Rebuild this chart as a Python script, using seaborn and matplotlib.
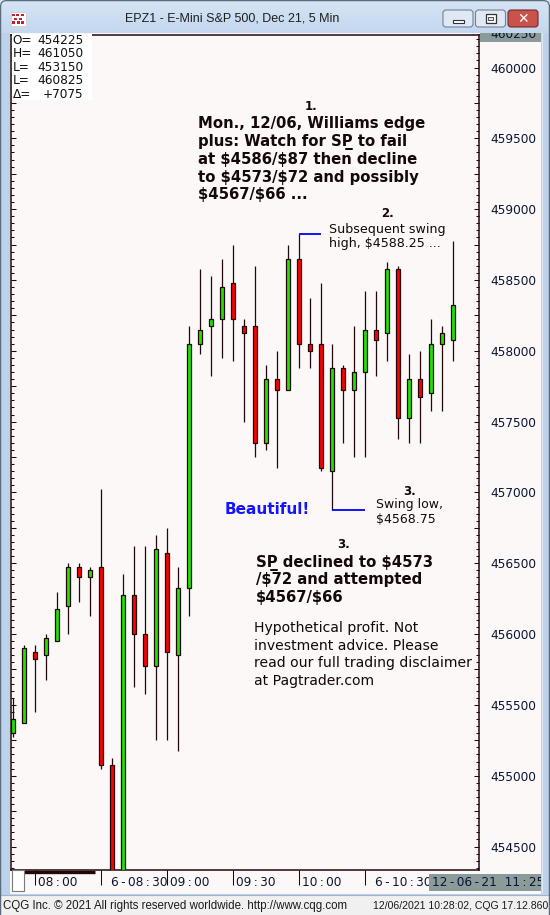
import numpy as np
import pandas as pd
import matplotlib
matplotlib.use("Agg")
import matplotlib.pyplot as plt
import seaborn as sns
from matplotlib.patches import Rectangle, FancyBboxPatch
from matplotlib.ticker import MultipleLocator, FuncFormatter

# ---------------- data (prices x100, as shown by CQG) ----------------
opens = [455300, 455375, 455875, 455850, 455950, 456200, 456475, 456400, 456475, 455075,
         454250, 456275, 456000, 455775, 456575, 455850, 456325, 458050, 458175, 458225,
         458475, 458175, 458175, 457350, 457800, 457725, 458650, 458050, 458050, 457150,
         457875, 457725, 457850, 458150, 458125, 458575, 457525, 457800, 457700, 458050,
         458075]
highs = [455550, 455925, 455925, 456000, 456300, 456500, 456500, 456475, 457025, 455125,
         456425, 456625, 456625, 456700, 456750, 456475, 458175, 458575, 458525, 458650,
         458750, 458225, 458600, 457900, 458000, 458750, 458825, 458375, 458475, 458050,
         457900, 458175, 458425, 458425, 458625, 458600, 457975, 458000, 458225, 458175,
         458775]
lows = [455275, 455375, 455450, 455675, 455950, 456000, 456225, 456125, 455050, 454200,
        454200, 455625, 455575, 455250, 455250, 455175, 456125, 457975, 457825, 457950,
        457925, 457500, 457250, 457300, 457175, 457725, 457875, 457875, 457150, 456875,
        457350, 457250, 457250, 457825, 457925, 457375, 457350, 457350, 457575, 457575,
        457925]
closes = [455400, 455900, 455825, 455975, 456175, 456475, 456400, 456450, 455075, 454250,
          456275, 456000, 455775, 456600, 455875, 456325, 458050, 458150, 458225, 458450,
          458225, 458125, 457350, 457800, 457725, 458650, 458050, 458000, 457175, 457875,
          457725, 457850, 458150, 458075, 458575, 457525, 457800, 457675, 458050, 458125,
          458325]

time_tick_idx = [2, 8, 14, 20, 26, 32]
time_tick_labels = ["08:00", "6-08:30", "09:00", "09:30", "10:00", "6-10:30"]
info_labels = ["O=", "H=", "L=", "L=", "\u0394="]
info_values = ["454225", "461050", "453150", "460825", "+7075"]
title_text = "EPZ1 - E-Mini S&P 500, Dec 21, 5 Min"
swing_high_idx = 26
swing_low_idx = 29

df = pd.DataFrame({"o": opens, "h": highs, "l": lows, "c": closes})
df["i"] = np.arange(len(df))

# ---------------- style ----------------
sns.set_theme(style="white")
plt.rcParams['font.family'] = ['DejaVu Sans']

W, H = 550, 915
fig = plt.figure(figsize=(5.5, 9.15), dpi=100)
FRAME = '#bcd2ea'
PLOTBG = '#fbf8f7'
DARK = '#22070a'
NAVY = '#0a1530'
fig.patch.set_facecolor(FRAME)

def pxax(z):
    a = fig.add_axes([0, 0, 1, 1], zorder=z)
    a.set_xlim(0, W); a.set_ylim(H, 0); a.axis('off'); a.patch.set_alpha(0)
    return a

bg = pxax(-10)
bg.add_patch(Rectangle((10, 33), 531, 861, facecolor=PLOTBG, edgecolor='none'))
bg.add_patch(Rectangle((0, 895), 550, 20, facecolor='#f0f0f0', edgecolor='none'))
bg.plot([0, 550], [895, 895], color='#9fb4cc', lw=0.8)

# ---------------- main chart ----------------
L, R, T, B = 11, 479, 35, 870
ax = fig.add_axes([L / W, 1 - B / H, (R - L) / W, (B - T) / H], zorder=0)
ax.set_facecolor(PLOTBG)
x0 = -(13 - L) / 11.0
ax.set_xlim(x0, x0 + (R - L) / 11.0)
units_per_px = 5500 / 779.0
ax.set_ylim(460000 - (B - 67.5) * units_per_px, 460000 + (67.5 - T) * units_per_px)

up = df["c"] >= df["o"]
colors = np.where(up, '#20e400', '#ff0000')
ax.vlines(df["i"], df["l"], df["h"], color=DARK, lw=0.9, zorder=2)
ax.bar(df["i"], (df["c"] - df["o"]).abs(), bottom=df[["o", "c"]].min(axis=1),
       width=0.42, color=colors, edgecolor=DARK, linewidth=0.9, zorder=3)

# swing markers
ax.plot([swing_high_idx, swing_high_idx + 2], [highs[swing_high_idx]] * 2,
        color='#0000ff', lw=1.3, zorder=4, solid_capstyle='butt')
ax.plot([swing_low_idx, swing_low_idx + 3], [lows[swing_low_idx]] * 2,
        color='#0000ff', lw=1.3, zorder=4, solid_capstyle='butt')

for s in ax.spines.values():
    s.set_color(DARK); s.set_linewidth(1.1); s.set_visible(True)

ax.yaxis.set_major_locator(MultipleLocator(250))
ax.yaxis.set_minor_locator(MultipleLocator(50))
ax.yaxis.set_major_formatter(FuncFormatter(
    lambda v, p: f"{int(round(v))}" if int(round(v)) % 500 == 0 else ""))
ax.tick_params(axis='y', which='both', direction='in', left=True, right=True,
               labelleft=False, labelright=True, color=DARK, width=0.75)
ax.tick_params(axis='y', which='major', length=3.8, labelsize=8.7, labelcolor=NAVY, pad=8.3)
ax.tick_params(axis='y', which='minor', length=2.2)
ax.set_xticks(time_tick_idx)
ax.set_xticklabels([])
ax.tick_params(axis='x', which='major', direction='out', bottom=True, length=10.8,
               width=0.75, color=DARK, labelbottom=False)
ax.xaxis.set_minor_locator(plt.NullLocator())
ax.grid(False)

def spaced(s):
    return s.replace(":", "\u2009:\u2009").replace("-", "\u2009-\u2009")

for idx, lbl in zip(time_tick_idx, time_tick_labels):
    dx = 10 if lbl.startswith("6-") else 3
    ax.annotate(spaced(lbl), xy=(idx, 0), xycoords=('data', 'axes fraction'),
                xytext=(dx, -16), textcoords='offset pixels', ha='left', va='baseline',
                fontsize=8.7, color=NAVY, annotation_clip=False)

# ---------------- overlay (window chrome & texts) ----------------
ov = pxax(10)
# info box
ov.add_patch(Rectangle((12, 34.2), 80, 66, facecolor='white', edgecolor='none', zorder=1))
for k, (lb, vl) in enumerate(zip(info_labels, info_values)):
    yb = 44 + 13.4 * k
    ov.text(12.5, yb, lb, fontsize=8.7, color='#111111', va='baseline', ha='left', zorder=2)
    ov.text(83.5, yb, vl, fontsize=8.7, color='#111111', va='baseline', ha='right', zorder=2)

# top-right cut label
ov.add_patch(Rectangle((479.5, 33), 61, 8.5, facecolor='#8b9b9a', edgecolor='none', zorder=1))
ov.text(490.5, 38.5, "460250", fontsize=8.7, color=NAVY, va='baseline', ha='left', zorder=2)

# bottom chrome
ov.plot([23, 95], [872, 872], color=DARK, lw=2.4, solid_capstyle='butt', zorder=2)
ov.add_patch(Rectangle((11.5, 869.5), 12, 21, facecolor='white', edgecolor='#7a7a7a',
                       lw=0.8, zorder=2))
ov.add_patch(Rectangle((429, 874), 112, 17, facecolor='#8b9b9a', edgecolor='none', zorder=1))
ov.text(432, 886.5, "12\u2009-\u200906\u2009-\u200921  11\u2009:\u200925", fontsize=8.7,
        color=NAVY, va='baseline', ha='left', zorder=2)
# right frame strip (covers overflow)
ov.add_patch(Rectangle((540.5, 33), 9.5, 862, facecolor=FRAME, edgecolor='none', zorder=4))
ov.plot([542, 542], [33, 893], color='#dde9f6', lw=0.8, zorder=4)

# title bar
grad = np.linspace(0, 1, 64).reshape(-1, 1)
ov.imshow(grad, extent=(0, W, 33, 0), cmap=matplotlib.colors.LinearSegmentedColormap.from_list(
    'tb', ['#d6e5f5', '#c3d7ee']), aspect='auto', zorder=5)
ov.set_xlim(0, W); ov.set_ylim(H, 0)
ov.add_patch(FancyBboxPatch((0.6, 0.6), W - 1.2, H + 20, boxstyle="round,pad=0,rounding_size=6",
                            facecolor='none', edgecolor='#5c6c7e', lw=0.9, zorder=9))
ov.text(232, 18.5, title_text, fontsize=9, family='Liberation Sans', color='#1e1e1e',
        ha='center', va='center', zorder=6)
# icon
ov.add_patch(Rectangle((10.5, 11.5), 15, 14, facecolor='white', edgecolor='#d8c8c8', lw=0.6, zorder=6))
for (a, b) in [(12, 13.5), (16, 13.5), (20.5, 13.5), (14, 17.5), (18.5, 17.5), (12, 21), (16.5, 21), (20.5, 21)]:
    ov.add_patch(Rectangle((a, b), 3, 2.6, facecolor='#c4202a', edgecolor='none', zorder=7))
# buttons
for (bx, fc, ec) in [(443, '#dfe8f3', '#6f829c'), (475.5, '#dfe8f3', '#6f829c'),
                     (508, '#c9524b', '#6e2b2b')]:
    ov.add_patch(FancyBboxPatch((bx, 10), 30, 17, boxstyle="round,pad=0,rounding_size=3",
                                facecolor=fc, edgecolor=ec, lw=0.8, zorder=6))
ov.add_patch(Rectangle((452.5, 19.5), 11, 3, facecolor='white', edgecolor='#333333', lw=0.8, zorder=7))
ov.add_patch(Rectangle((485.5, 13.5), 10, 9, facecolor='white', edgecolor='#333333', lw=0.9, zorder=7))
ov.add_patch(Rectangle((488, 16.5), 5, 3.5, facecolor='#dfe8f3', edgecolor='#333333', lw=0.6, zorder=8))
ov.text(523, 18.8, "\u2715", fontsize=10, fontweight='bold', color='white', ha='center',
        va='center', zorder=7)

# annotations
TXT = '#140808'
def t(x, y, s, size, weight='normal', color=TXT, ha='left'):
    ov.text(x, y, s, fontsize=size, fontweight=weight, color=color, ha=ha, va='baseline',
            parse_math=False, zorder=3)

t(311, 110, "1.", 8.5, 'bold', ha='center')
block1 = ["Mon., 12/06, Williams edge", "plus: Watch for SP\u0332 to fail",
          "at $4586/$87 then decline", "to $4573/$72 and possibly", "$4567/$66 ..."]
for k, s in enumerate(block1):
    t(197.5, 128.3 + 17.75 * k, s, 10.7, 'bold')

t(387.3, 216.7, "2.", 8.5, 'bold', ha='center')
for k, s in enumerate(["Subsequent swing", "high, $4588.25 ..."]):
    t(329.3, 233.3 + 13.4 * k, s, 9.1)

t(409.3, 495, "3.", 8.5, 'bold', ha='center')
for k, s in enumerate(["Swing low,", "$4568.75"]):
    t(375.7, 508.3 + 14.4 * k, s, 9.0)

t(225, 514, "Beautiful!", 11.0, 'bold', color='#1414ff')

t(343.3, 547.7, "3.", 8.5, 'bold', ha='center')
for k, s in enumerate(["SP\u0332 declined to $4573", "/$72 and attempted", "$4567/$66"]):
    t(255.7, 566.7 + 17.65 * k, s, 10.7, 'bold')

for k, s in enumerate(["Hypothetical profit. Not", "investment advice. Please",
                       "read our full trading disclaimer", "at Pagtrader.com"]):
    t(254.3, 631.7 + 17.8 * k, s, 10.1)

# footer
ov.text(3, 909, "CQG Inc. \u00a9 2021 All rights reserved worldwide. http://www.cqg.com",
        fontsize=8.3, family='Liberation Sans', color='#1a1a1a', va='baseline', ha='left')
ov.text(548, 909, "12/06/2021 10:28:02, CQG 17.12.860", fontsize=7.6, family='Liberation Sans',
        color='#1a1a1a', va='baseline', ha='right')

fig.savefig("out.png", dpi=100, facecolor=fig.get_facecolor())
